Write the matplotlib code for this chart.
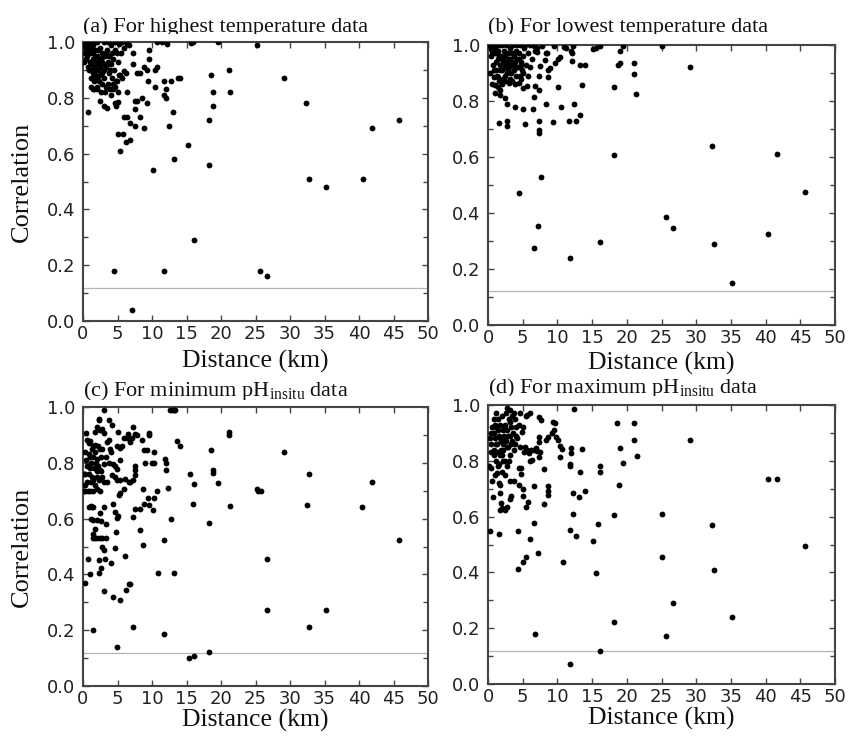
import matplotlib
matplotlib.use("Agg")
import matplotlib.pyplot as plt
from matplotlib.ticker import MultipleLocator, FormatStrFormatter
from matplotlib.transforms import Bbox, TransformedBbox

plt.rcParams['mathtext.fontset'] = 'custom'
plt.rcParams['mathtext.rm'] = 'Liberation Serif'
plt.rcParams['mathtext.it'] = 'Liberation Serif:italic'

# ---------------- data ----------------
titles = ["(a) For highest temperature data",
          "(b) For lowest temperature data",
          r"(c) For minimum pH$_{\mathrm{insitu}}$ data",
          r"(d) For maximum pH$_{\mathrm{insitu}}$ data"]
x_label = "Distance (km)"
y_label = "Correlation"
threshold = 0.12
x_ticks = [0, 5, 10, 15, 20, 25, 30, 35, 40, 45, 50]
y_ticks = [0.0, 0.2, 0.4, 0.6, 0.8, 1.0]

a_pts = [(0.7,0.75),(4.5,0.18),(11.8,0.18),(16.15,0.29),(25.65,0.18),(26.6,0.16),(7.1,0.04),
         (10.1,0.54),(15.2,0.63),(13.2,0.58),(18.2,0.56),(18.2,0.72),(18.8,0.77),(18.9,0.82),
         (18.6,0.88),(21.1,0.90),(21.3,0.82),(29.1,0.87),(32.35,0.78),(32.7,0.51),(35.2,0.48),
         (40.55,0.51),(41.9,0.69),(45.75,0.72),(25.2,0.99),(19.6,1.0),(15.6,0.995),(16.0,1.0),
         (12.15,0.994),(10.7,1.0),(11.5,1.0),(13.1,0.75),(12.4,0.70),(11.8,0.81),(12.0,0.80),
         (12.1,0.83),(11.7,0.86),(12.7,0.86),(13.75,0.87),(14.1,0.87),(10.4,0.90),(10.7,0.91),
         (10.4,0.84),(9.4,0.86),(9.6,0.94),(9.6,0.97),(9.3,0.90),(8.8,0.91),(8.3,0.89),(7.8,0.89),
         (8.5,0.80),(9.3,0.78),(8.8,0.69),(8.2,0.73),(7.5,0.70),(6.85,0.71),(7.5,0.76),(7.5,0.79),
         (7.8,0.79),(6.4,0.73),(6.0,0.73),(6.4,0.82),(6.8,0.65),(6.3,0.64),(5.0,0.67),(5.8,0.67),
         (5.3,0.61),(4.7,0.78),(5.0,0.785),(4.8,0.77),(5.0,0.82),(7.3,0.96),(7.3,0.92),(6.0,0.895),
         (5.4,0.88),(4.9,0.86),(4.7,0.84),(3.0,0.77),(3.5,0.765),(2.4,0.79),(4.0,0.81),(3.6,0.85),
         (1.5,0.83),(2.0,0.83),(5.2,0.994),(6.4,0.994),(6.7,0.99),
         (0.2,0.99),(0.4,0.97),(0.5,1.0),(0.6,0.95),(0.8,0.98),(1.0,0.93),(1.0,1.0),(1.2,0.96),
         (1.3,0.90),(1.4,0.99),(1.5,0.94),(1.6,0.91),(1.7,0.97),(1.8,0.88),(1.9,0.93),(2.0,1.0),
         (2.1,0.95),(2.2,0.90),(2.3,0.86),(2.4,0.92),(2.5,0.98),(2.6,0.94),(2.7,0.89),(2.8,0.96),
         (2.9,0.92),(3.0,0.87),(3.1,1.0),(3.2,0.95),(3.3,0.91),(3.4,0.84),(3.5,0.97),(3.6,0.93),
         (3.7,0.89),(3.8,0.95),(4.0,0.99),(4.1,0.92),(4.2,0.87),(4.4,0.94),(4.5,0.90),(4.6,0.97),
         (4.8,0.86),(5.0,0.93),(5.2,0.88),(5.5,0.96),(5.7,0.87),(6.0,0.98),(6.2,0.89),(0.3,0.96),
         (0.7,0.91),(1.1,0.87),(2.0,0.84),(2.6,0.82),(1.6,0.83),(3.9,0.83),(4.3,0.85),(0.9,0.99),
         (1.8,1.0),(2.2,0.97),(3.6,1.0),(4.6,1.0),(5.6,1.0),(0.1,0.93),
         (0.3,0.985),(0.6,0.975),(0.9,0.96),(1.1,0.985),(1.3,0.97),(1.5,0.965),(1.7,0.95),(1.9,0.90),
         (2.1,0.92),(2.3,0.94),(2.5,0.91),(2.7,0.93),(2.9,0.95),(3.1,0.90),(3.3,0.96),(3.5,0.92),
         (1.2,0.92),(1.4,0.89),(1.6,0.86),(2.4,0.88),(2.8,0.85),(0.5,0.94),(0.8,0.90),(4.2,0.96),
         (3.9,0.90),(4.4,0.83),(4.9,0.96),(3.2,0.82),(2.1,0.87),(1.2,0.84)]

b_pts = [(1.54,0.72),(2.8,0.73),(2.8,0.71),(4.5,0.47),(5.4,0.717),(7.15,0.355),(6.7,0.274),
         (7.7,0.527),(7.3,0.687),(7.3,0.696),(7.4,0.73),(6.5,0.77),(5.05,0.77),(3.9,0.78),(2.8,0.79),
         (2.5,0.81),(8.4,0.79),(9.3,0.726),(10.5,0.78),(10.1,0.85),(11.7,0.73),(12.7,0.73),(12.4,0.79),
         (13.2,0.75),(13.5,0.857),(11.85,0.24),(16.1,0.298),(18.1,0.607),(18.1,0.85),(18.7,0.93),
         (19.0,0.935),(19.0,0.98),(21.1,0.937),(21.1,0.896),(21.35,0.824),(25.1,0.996),(25.6,0.386),
         (26.6,0.348),(29.1,0.923),(32.3,0.639),(32.6,0.288),(35.1,0.149),(40.4,0.325),(41.7,0.61),
         (45.7,0.474),(13.2,0.93),(14.0,0.93),(12.1,0.943),(12.0,0.98),(12.1,0.97),(15.2,0.985),
         (16.2,0.997),(15.6,0.99),(19.5,0.997),(9.5,0.997),(10.9,0.994),(10.1,0.95),(9.7,0.935),
         (10.4,0.958),(8.6,0.91),(9.0,0.917),(8.25,0.946),(7.5,0.925),(8.6,0.885),(7.4,0.89),
         (6.8,0.853),(7.3,0.84),(6.6,0.815),(5.6,0.853),(5.1,0.845),(4.4,0.863),(3.0,0.863),
         (1.8,0.84),(1.8,0.82),(1.05,0.857),(0.9,0.887),(1.4,0.887),(6.8,0.98),(7.1,0.975),
         (8.3,0.97),(8.5,0.97),(6.1,0.92),(4.6,0.89),(5.1,0.90),
         (0.2,1.0),(0.5,0.99),(0.8,1.0),(1.0,0.97),(1.2,0.995),(1.4,0.95),(1.5,0.98),(1.7,0.93),
         (1.8,1.0),(1.9,0.96),(2.0,0.91),(2.1,0.94),(2.3,0.98),(2.4,0.92),(2.5,0.96),(2.6,1.0),
         (2.7,0.90),(2.8,0.94),(2.9,0.97),(3.0,0.92),(3.1,0.99),(3.2,0.95),(3.3,0.90),(3.4,0.97),
         (3.5,0.93),(3.6,1.0),(3.7,0.96),(3.8,0.91),(3.9,0.94),(4.0,0.98),(4.1,0.89),(4.2,0.95),
         (4.3,0.92),(4.5,0.97),(4.6,1.0),(4.7,0.94),(4.9,0.91),(5.0,0.96),(5.2,0.99),(5.5,0.93),
         (5.7,0.97),(6.0,1.0),(6.3,0.95),(0.4,0.96),(0.7,0.93),(1.1,0.91),(1.3,0.89),(2.2,0.88),
         (3.5,0.87),(4.8,0.88),(5.8,0.89),(0.3,0.90),(0.6,0.86),(1.0,0.83),(1.5,0.85),(2.0,0.86),
         (2.5,0.87),(3.9,0.86),(0.9,0.99),(2.0,1.0),(4.2,1.0),(5.4,1.0),(6.6,0.995),(7.0,0.99),
         (7.8,0.995),(11.3,0.99),(12.2,0.995),
         (0.4,0.985),(0.6,0.97),(1.1,0.94),(1.3,0.97),(1.6,0.96),(2.2,0.95),(2.6,0.93),(3.0,0.95),
         (3.3,0.93),(3.6,0.94),(4.0,0.92),(4.4,0.95),(1.8,0.91),(2.4,0.89),(3.1,0.88),(0.8,0.91),
         (1.6,0.87),(2.9,0.91),(3.8,0.97),(4.8,0.93)]

c_pts = [(0.24,0.369),(1.06,0.403),(0.72,0.454),(1.45,0.20),(4.9,0.14),(3.0,0.34),(4.4,0.32),
         (5.4,0.307),(6.3,0.343),(6.6,0.364),(6.85,0.364),(6.1,0.465),(7.2,0.211),(4.7,0.495),
         (4.75,0.551),(4.1,0.441),(3.2,0.456),(2.65,0.424),(2.3,0.405),(2.3,0.453),(3.0,0.489),
         (2.75,0.498),(3.4,0.53),(2.0,0.53),(1.8,0.53),(1.5,0.53),(2.5,0.53),(2.75,0.53),(1.5,0.546),
         (1.7,0.564),(2.0,0.594),(1.5,0.596),(2.65,0.59),(4.7,0.624),(4.9,0.603),(5.1,0.61),
         (4.3,0.651),(3.1,0.641),(1.3,0.641),(1.5,0.641),(1.1,0.645),(7.2,0.606),(7.5,0.636),
         (8.2,0.56),(8.7,0.507),(8.3,0.636),(8.8,0.654),(8.7,0.707),(9.4,0.674),(9.6,0.65),
         (10.1,0.632),(10.3,0.674),(10.7,0.698),(10.8,0.405),(11.7,0.525),(11.8,0.188),(13.2,0.405),
         (12.7,0.60),(12.3,0.711),(12.05,0.773),(11.9,0.812),(12.05,0.80),(10.3,0.839),(10.3,0.80),
         (10.0,0.80),(9.0,0.80),(8.8,0.845),(9.3,0.845),(9.6,0.907),(9.6,0.898),(8.5,0.88),
         (7.3,0.928),(7.6,0.904),(7.8,0.898),(7.1,0.89),(6.5,0.904),(6.85,0.875),(6.0,0.89),
         (6.4,0.89),(5.6,0.859),(5.3,0.854),(4.9,0.859),(5.3,0.81),(4.4,0.797),(4.7,0.787),
         (4.9,0.779),(4.2,0.755),(4.7,0.749),(4.9,0.737),(5.4,0.737),(5.2,0.684),(5.4,0.69),
         (5.9,0.707),(6.1,0.743),(6.6,0.731),(6.85,0.731),(7.3,0.737),(7.6,0.755),(7.5,0.773),
         (7.6,0.787),(3.5,0.875),(3.7,0.88),(3.9,0.85),(4.0,0.84),(3.7,0.80),(3.0,0.907),(2.5,0.916),
         (2.75,0.922),(3.7,0.955),(4.2,0.934),(2.3,0.958),(2.3,0.952),(3.0,0.99),(5.0,0.91),
         (0.5,0.907),(0.6,0.88),(1.06,0.877),(1.8,0.863),(0.34,0.839),(0.8,0.833),(1.5,0.82),
         (2.0,0.815),(1.9,0.80),(0.34,0.761),(0.8,0.761),(1.3,0.75),(1.5,0.74),(0.34,0.699),
         (0.7,0.699),(1.06,0.699),(1.45,0.699),(2.0,0.707),(2.5,0.699),(3.1,0.731),(3.5,0.731),
         (3.0,0.797),(2.4,0.773),(12.6,0.99),(12.9,0.99),(13.2,0.99),(13.4,0.99),(14.1,0.859),
         (13.6,0.878),(15.5,0.761),(16.15,0.725),(16.0,0.651),(15.3,0.102),(16.15,0.106),(18.2,0.122),
         (18.2,0.584),(18.6,0.845),(18.9,0.773),(18.9,0.763),(19.5,0.728),(21.1,0.91),(21.1,0.898),
         (21.3,0.644),(25.2,0.707),(25.4,0.70),(25.75,0.699),(26.6,0.456),(26.6,0.271),(29.1,0.839),
         (32.4,0.65),(32.7,0.759),(32.7,0.211),(35.25,0.271),(40.5,0.642),(41.9,0.731),(45.8,0.522),
         (1.2,0.80),(1.6,0.78),(2.2,0.79),(2.6,0.82),(1.0,0.78),(2.8,0.85),(0.5,0.81),(2.2,0.86),
         (1.4,0.86),(2.0,0.75),(2.3,0.74),(1.8,0.72),(0.2,0.76),(0.3,0.72),(0.6,0.79),(1.7,0.91),
         (2.0,0.93),(0.9,0.87),(3.3,0.82),(2.6,0.77),(0.8,0.64),(1.2,0.60),(2.4,0.62),(3.3,0.58),
         (0.2,0.70),(1.0,0.82),(1.3,0.85),(1.7,0.84),(2.4,0.85),(2.1,0.77),(1.1,0.73),(0.6,0.73),
         (2.8,0.75)]

d_pts = [(0.34,0.547),(1.54,0.538),(0.72,0.672),(0.5,0.773),(0.58,0.729),(1.06,0.749),(1.3,0.755),
         (1.6,0.72),(1.8,0.714),(1.8,0.686),(1.9,0.648),(2.0,0.63),(1.7,0.624),(2.5,0.624),(2.8,0.636),
         (3.1,0.662),(3.3,0.674),(3.2,0.729),(3.7,0.729),(4.3,0.547),(4.3,0.412),(5.0,0.439),
         (5.5,0.455),(4.5,0.773),(4.8,0.773),(4.75,0.752),(4.5,0.714),(5.1,0.70),(5.0,0.674),
         (5.5,0.636),(5.7,0.654),(6.0,0.519),(6.6,0.576),(6.6,0.71),(7.15,0.471),(6.8,0.18),
         (8.1,0.646),(8.1,0.77),(8.6,0.69),(8.7,0.71),(8.7,0.678),(10.75,0.437),(11.75,0.073),
         (11.85,0.553),(12.2,0.61),(12.7,0.531),(12.2,0.684),(13.1,0.669),(13.2,0.761),(14.0,0.693),
         (11.85,0.789),(11.85,0.782),(11.95,0.829),(11.95,0.845),(13.5,0.841),(12.4,0.985),
         (15.2,0.511),(15.6,0.397),(15.9,0.573),(16.2,0.782),(16.2,0.761),(16.2,0.119),(18.1,0.606),
         (18.1,0.224),(18.6,0.937),(18.9,0.714),(19.0,0.845),(19.4,0.791),(21.1,0.937),(21.1,0.875),
         (21.4,0.817),(25.1,0.61),(25.1,0.455),(25.6,0.173),(26.6,0.29),(29.1,0.875),(32.3,0.570),
         (32.6,0.409),(35.1,0.241),(40.4,0.734),(41.7,0.734),(45.7,0.495),(2.8,0.988),(3.1,0.982),
         (3.8,0.97),(3.9,0.949),(4.65,0.973),(5.6,0.964),(6.1,0.97),(7.3,0.958),(7.6,0.946),
         (9.4,0.94),(9.7,0.934),(9.45,0.91),(9.2,0.899),(9.8,0.887),(10.1,0.875),(10.4,0.853),
         (10.65,0.841),(10.4,0.815),(7.5,0.833),(7.4,0.815),(7.3,0.887),(7.4,0.869),(8.4,0.875),
         (8.6,0.887),(5.4,0.851),(5.6,0.839),(5.85,0.827),(6.6,0.84),(6.85,0.845),(7.1,0.835),
         (6.3,0.803),(6.1,0.80),(5.1,0.922),(4.9,0.905),(4.2,0.88),(3.9,0.86),
         (0.3,0.88),(0.5,0.86),(0.7,0.90),(0.9,0.84),(1.0,0.88),(1.2,0.92),(1.3,0.86),(1.5,0.95),
         (1.6,0.89),(1.7,0.82),(1.8,0.93),(1.9,0.87),(2.0,0.96),(2.1,0.91),(2.2,0.84),(2.3,0.89),
         (2.4,0.80),(2.5,0.93),(2.6,0.87),(2.7,0.78),(2.8,0.91),(2.9,0.85),(3.0,0.95),(3.1,0.89),
         (3.2,0.82),(3.3,0.92),(3.4,0.87),(3.5,0.96),(3.6,0.90),(3.8,0.84),(4.0,0.92),(4.1,0.89),
         (1.1,0.80),(1.4,0.78),(2.0,0.76),(2.5,0.75),(1.2,0.97),(0.8,0.95),(0.4,0.83),(4.4,0.93),
         (4.6,0.85),(5.2,0.83),(5.5,0.96),(6.2,0.84),(0.2,0.78),
         (0.6,0.92),(0.9,0.90),(1.1,0.86),(1.4,0.91),(1.7,0.88),(1.9,0.84),(2.1,0.86),(2.3,0.92),
         (2.5,0.88),(2.7,0.85),(2.9,0.89),(3.1,0.94),(3.3,0.86),(1.5,0.83),(2.2,0.80),(0.4,0.90),
         (1.0,0.93),(1.6,0.79),(3.0,0.80),(2.6,0.97),(0.8,0.82),(2.0,0.82)]

panels = [a_pts, b_pts, c_pts, d_pts]

# ---------------- layout ----------------
W, H = 849, 736
fig = plt.figure(figsize=(W / 100, H / 100), dpi=100)

# axes boxes in pixel coordinates (left, top, right, bottom)
boxes = [(83, 42, 428, 321), (488, 45, 835, 325), (83, 407, 428, 686), (488, 405, 835, 684)]
title_base = [32, 32, 396, 393]
title_clip = [33.5, 33.5, 400, 395.5]
xlabel_base = [368, 370, 727, 725]

serif = 'Liberation Serif'
for i, (pts, box) in enumerate(zip(panels, boxes)):
    l, t, r, b = box
    ax = fig.add_axes([l / W, 1 - b / H, (r - l) / W, (b - t) / H])
    xs = [p[0] for p in pts]
    ys = [p[1] for p in pts]
    ax.plot(xs, ys, linestyle='none', marker='o', markersize=4.2, color='black',
            markeredgewidth=0, zorder=3)
    ax.axhline(threshold, color='#b5b5b5', linewidth=0.9, zorder=2)
    ax.set_xlim(0, 50)
    ax.set_ylim(0, 1.0)
    ax.set_xticks(x_ticks)
    ax.set_yticks(y_ticks)
    ax.yaxis.set_minor_locator(MultipleLocator(0.1))
    ax.yaxis.set_major_formatter(FormatStrFormatter('%.1f'))
    ax.tick_params(which='both', direction='in', top=True, right=True,
                   color='#444444', width=1.0)
    ax.tick_params(which='major', length=4.5, labelsize=13, labelcolor='#222222')
    ax.tick_params(axis='x', which='major', pad=3)
    ax.tick_params(axis='y', which='major', pad=5.5)
    ax.tick_params(which='minor', length=3.5)
    for s in ax.spines.values():
        s.set_color('#444444')
        s.set_linewidth(1.5)
    for lab in ax.get_xticklabels() + ax.get_yticklabels():
        lab.set_family('DejaVu Sans')

    # title (clipped at top edge like the reference)
    tt = fig.text(l / W, 1 - title_base[i] / H, titles[i], ha='left', va='baseline',
                  fontsize=16, family=serif, color='#111111')
    clipbox = TransformedBbox(Bbox.from_extents(0, 1 - title_clip[i] / H, 1, 1), fig.transFigure)
    tt.set_clip_box(clipbox)
    tt.set_clip_on(True)

    # x label
    fig.text((l + r) / 2 / W, 1 - xlabel_base[i] / H, x_label, ha='center', va='baseline',
             fontsize=18.5, family=serif, color='#111111')
    # y label for the left column
    if i in (0, 2):
        fig.text(22 / W, 1 - (t + b) / 2 / H, y_label, ha='center', va='center',
                 rotation=90, fontsize=19, family=serif, color='#111111')

fig.savefig('out.png', dpi=100)
